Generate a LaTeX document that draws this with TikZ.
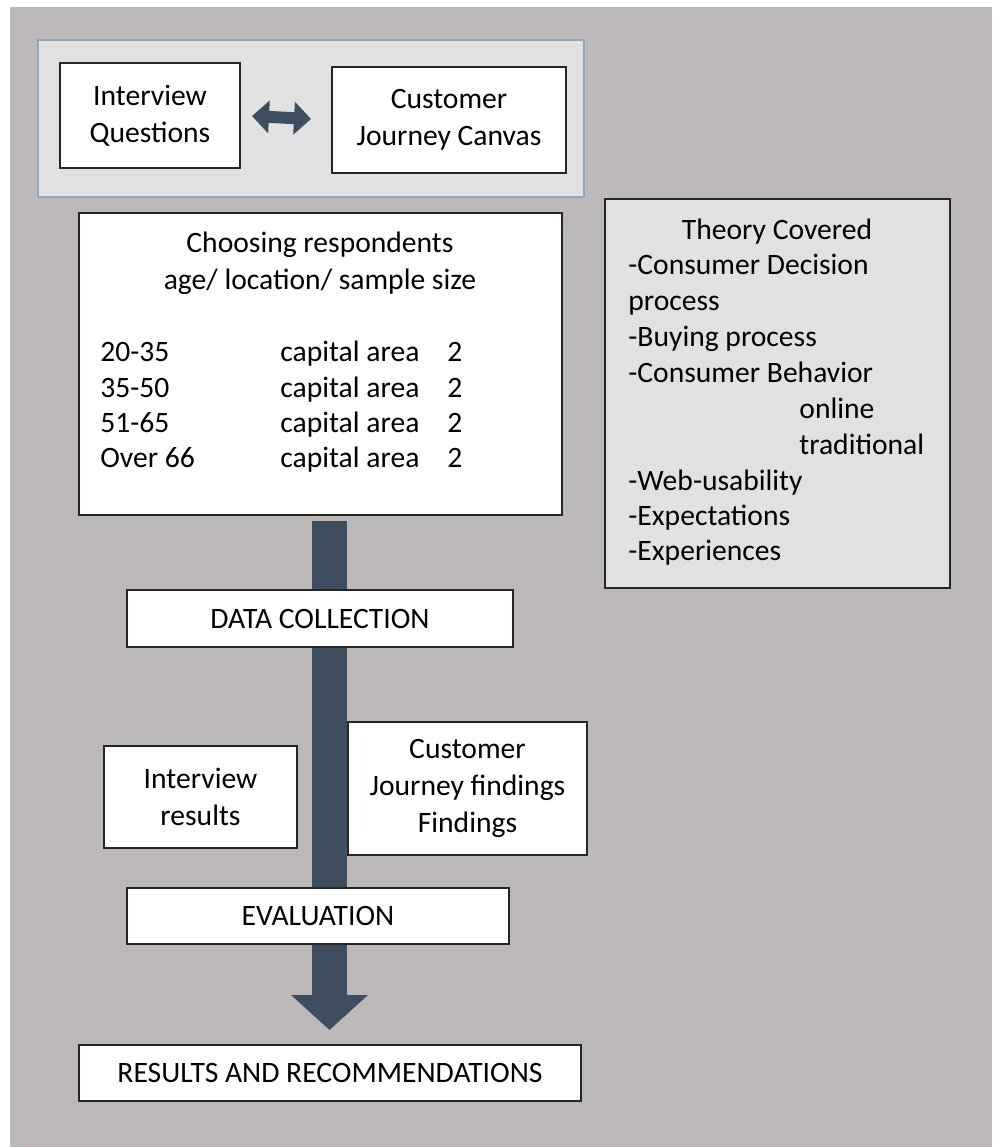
\documentclass[tikz,border=0pt]{standalone}
\usepackage{fontspec}
\setmainfont{Carlito}
\usetikzlibrary{arrows.meta}
\definecolor{pagegray}{HTML}{BCB8B7}
\definecolor{panelgray}{HTML}{E1E1E1}
\definecolor{paneledge}{HTML}{8DA6BE}
\definecolor{flowblue}{HTML}{3E4E5E}
\begin{document}
\begin{tikzpicture}[x=0.5pt,y=-0.5pt,
  txt/.style={font=\fontsize{14.8}{18.5}\selectfont, text=black, inner sep=0pt},
  box/.style={draw=black!85, line width=1pt, fill=white, inner sep=0pt, align=center, txt},
  line/.style={txt, anchor=base west},
]
\useasboundingbox (0,0) rectangle (992,1147);
% page background
\fill[white] (0,0) rectangle (992,1147);
\fill[pagegray] (10,7) rectangle (992,1147);

% instruments panel
\node[draw=paneledge, line width=0.8pt, fill=panelgray, minimum width=273pt, minimum height=78.5pt, inner sep=0pt] (panel) at (311,118.5) {};
\node[box, minimum width=90pt, minimum height=52.5pt] (iq) at (150,115.5) {Interview\\Questions};
\node[box, minimum width=117pt, minimum height=53pt] (cjc) at (449,120) {Customer\\Journey Canvas};
\draw[flowblue, line width=6pt, shorten <=5.5pt, shorten >=10pt,
  {Triangle[length=8.5pt,width=16pt]}-{Triangle[length=8.5pt,width=16pt]}] (iq.east) -- (cjc.west);

% main flow arrow
\coordinate (flowtop) at (329.5,521);
\coordinate (flowtip) at (329.5,1030);
\draw[flowblue, line width=17.5pt, -{Triangle[length=17.5pt,width=37.5pt]}] (flowtop) -- (flowtip);

% respondents
\node[box, minimum width=241.5pt, minimum height=151pt] (resp) at (320.5,364) {};
\node[txt, anchor=base] (resp1) at (320,252) {Choosing respondents};
\node[txt, anchor=base] (resp2) at (320,289) {age/ location/ sample size};
\foreach \i/\age/\yy in {1/20-35/361, 2/35-50/397, 3/51-65/432, 4/Over 66/467} {
  \node[line] (age\i) at (100,\yy) {\age};
  \node[line] (loc\i) at (280,\yy) {capital area};
  \node[line] (num\i) at (447,\yy) {2};
}

% theory
\node[box, fill=panelgray, minimum width=172.5pt, minimum height=194.5pt] (theory) at (777.5,393.5) {};
\node[txt, anchor=base] (th0) at (777,239) {Theory Covered};
\node[line] (th1) at (628,274) {-Consumer Decision};
\node[line] (th2) at (628,310) {process};
\node[line] (th3) at (628,346) {-Buying process};
\node[line] (th4) at (628,382) {-Consumer Behavior};
\node[line] (th5) at (799,418) {online};
\node[line] (th6) at (799,454) {traditional};
\node[line] (th7) at (628,490) {-Web-usability};
\node[line] (th8) at (628,525) {-Expectations};
\node[line] (th9) at (628,560) {-Experiences};

% stages
\node[box, minimum width=193pt, minimum height=28.5pt] (data) at (320,618.5) {DATA COLLECTION};
\node[box, minimum width=96.5pt, minimum height=51pt] (ires) at (200.5,797) {Interview\\results};
\node[box, minimum width=119.5pt, minimum height=66.5pt] (cjf) at (467.5,788.5) {Customer\\Journey findings\\Findings};
\node[box, minimum width=191pt, minimum height=28pt] (eval) at (318,916) {EVALUATION};
\node[box, minimum width=251pt, minimum height=28pt] (res) at (330,1073) {RESULTS AND RECOMMENDATIONS};
\end{tikzpicture}
\end{document}
